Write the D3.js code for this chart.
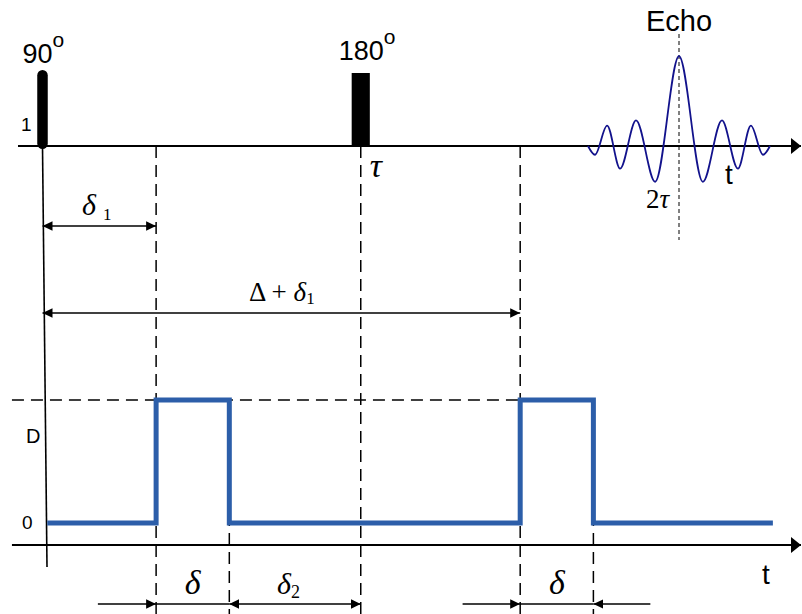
<!DOCTYPE html>
<html>
<head>
<meta charset="utf-8">
<script src="https://cdn.jsdelivr.net/npm/d3@7"></script>
<style>
  html, body { margin: 0; padding: 0; background: #fff; }
  svg { display: block; }
</style>
</head>
<body>
<svg id="chart" width="802" height="614"></svg>
<script>
// ---------- data (time in arbitrary units, tau = 10) ----------
const tau = 10;
const delta1 = 3.57;
const delta = 2.3;
const Delta = 11.44;
const delta2 = tau - delta1 - delta;

// RF pulses
const pulseLabels = ["90", "180"];
const pulseTimes = [0, tau];
const pulseDurations = [0.33, 0.57];
const pulseAmps = [1, 1];

// echo signal: time offsets from 2*tau and amplitudes (extrema)
const echoOffsets = [-2.86, -2.64, -2.26, -1.85, -1.35, -0.75, 0, 0.75, 1.35, 1.85, 2.26, 2.64, 2.86];
const echoAmps    = [0, -0.12, 0.28, -0.31, 0.35, -0.49, 1.23, -0.49, 0.35, -0.31, 0.28, -0.12, 0];

// gradient waveform (step)
const gradTimes  = [0.15, delta1, delta1, delta1 + delta, delta1 + delta, delta1 + Delta, delta1 + Delta, delta1 + Delta + delta, delta1 + Delta + delta, 22.95];
const gradLevels = [0, 0, 1, 1, 0, 0, 1, 1, 0, 0];

// axis tick labels
const rfTickLabels = ["1"];
const gradTickLabels = ["D", "0"];

// ---------- scales ----------
const svg = d3.select("#chart");
const x = d3.scaleLinear().domain([0, 2 * tau]).range([42.5, 679]);
const yRF = d3.scaleLinear().domain([0, 1]).range([146, 73]);
const yG = d3.scaleLinear().domain([0, 1]).range([523, 400]);
const yBase = 545; // gradient time axis

const SANS = "Liberation Sans, Arial, sans-serif";
const SERIF = "Liberation Serif, Times New Roman, serif";

// arrow markers
const defs = svg.append("defs");
function marker(id, size, len) {
  defs.append("marker")
    .attr("id", id)
    .attr("markerUnits", "userSpaceOnUse")
    .attr("viewBox", `0 ${-size} ${len} ${2 * size}`)
    .attr("refX", len).attr("refY", 0)
    .attr("markerWidth", len).attr("markerHeight", 2 * size)
    .attr("orient", "auto-start-reverse")
    .append("path")
    .attr("d", `M0,${-size}L${len},0L0,${size}Z`)
    .attr("fill", "#000");
}
marker("arr", 4.8, 10);
marker("axarr", 8, 10);

// ---------- dashed reference lines ----------
const dash = "12,7";
const vDashes = [
  { t: delta1, y0: yRF(0), y1: 614 },
  { t: delta1 + delta, y0: yG(1), y1: 614 },
  { t: tau, y0: yRF(0), y1: 614 },
  { t: delta1 + Delta, y0: yRF(0), y1: 614 },
  { t: delta1 + Delta + delta, y0: yG(1), y1: 614 }
];
svg.append("g").selectAll("line").data(vDashes).join("line")
  .attr("x1", d => x(d.t)).attr("x2", d => x(d.t))
  .attr("y1", d => d.y0).attr("y2", d => d.y1)
  .attr("stroke", "#000").attr("stroke-width", 1.5)
  .attr("stroke-dasharray", dash);

// horizontal dashed at level D
svg.append("line")
  .attr("x1", x(-0.96)).attr("x2", x(delta1 + Delta))
  .attr("y1", yG(1)).attr("y2", yG(1))
  .attr("stroke", "#000").attr("stroke-width", 1.5)
  .attr("stroke-dasharray", dash);

// echo centre dashed
svg.append("line")
  .attr("x1", x(2 * tau)).attr("x2", x(2 * tau))
  .attr("y1", 34).attr("y2", 240)
  .attr("stroke", "#000").attr("stroke-width", 1)
  .attr("stroke-dasharray", "4,3");

// ---------- axes ----------
svg.append("line")
  .attr("x1", x(-0.77)).attr("x2", 801)
  .attr("y1", yRF(0)).attr("y2", yRF(0))
  .attr("stroke", "#000").attr("stroke-width", 2)
  .attr("marker-end", "url(#axarr)");
svg.append("line")
  .attr("x1", x(-0.96)).attr("x2", 801)
  .attr("y1", yBase).attr("y2", yBase)
  .attr("stroke", "#000").attr("stroke-width", 2)
  .attr("marker-end", "url(#axarr)");
svg.append("line")
  .attr("x1", x(0)).attr("y1", yRF(0))
  .attr("x2", x(0) + 4.5).attr("y2", 567)
  .attr("stroke", "#000").attr("stroke-width", 1.6);

// ---------- gradient waveform ----------
const gLine = d3.line().x(d => x(d[0])).y(d => yG(d[1]));
svg.append("path")
  .datum(d3.zip(gradTimes, gradLevels))
  .attr("d", gLine)
  .attr("fill", "none")
  .attr("stroke", "#2c5ea9")
  .attr("stroke-width", 5)
  .attr("stroke-linejoin", "miter");

// ---------- RF pulses ----------
pulseTimes.forEach((t, i) => {
  const w = x(pulseDurations[i]) - x(0);
  svg.append("rect")
    .attr("x", x(t) - w / 2).attr("width", w)
    .attr("y", yRF(pulseAmps[i]) - (i === 0 ? 3 : 0))
    .attr("height", yRF(0) - yRF(pulseAmps[i]) + (i === 0 ? 6 : 0))
    .attr("rx", i === 0 ? w / 2 : 0)
    .attr("fill", "#000");
});
const pulseLabelPos = [{ dx: -20, base: 63 }, { dx: -22, base: 60 }];
pulseLabels.forEach((lab, i) => {
  const tx = svg.append("text")
    .attr("x", x(pulseTimes[i]) + pulseLabelPos[i].dx)
    .attr("y", pulseLabelPos[i].base)
    .attr("font-size", 27).attr("font-family", SANS);
  tx.append("tspan").text(lab);
  tx.append("tspan").text("o").attr("font-size", 21).attr("dy", -16);
});

// ---------- echo ----------
const eLine = d3.line()
  .x(d => x(2 * tau + d[0]))
  .y(d => yRF(d[1]))
  .curve(d3.curveMonotoneX);
svg.append("path")
  .datum(d3.zip(echoOffsets, echoAmps))
  .attr("d", eLine)
  .attr("fill", "none")
  .attr("stroke", "#12128c")
  .attr("stroke-width", 1.8);

svg.append("text").text("Echo")
  .attr("x", x(2 * tau)).attr("y", 31)
  .attr("text-anchor", "middle")
  .attr("font-family", SANS).attr("font-size", 29);

// ---------- interval arrows ----------
function arrow(t0, t1, y, start, end) {
  const l = svg.append("line")
    .attr("x1", x(t0)).attr("x2", x(t1))
    .attr("y1", y).attr("y2", y)
    .attr("stroke", "#000").attr("stroke-width", 1.3);
  if (start) l.attr("marker-start", "url(#arr)");
  if (end) l.attr("marker-end", "url(#arr)");
}
arrow(0, delta1, 226, true, true);
arrow(0, delta1 + Delta, 313, true, true);
const yb = 604;
arrow(1.74, delta1, yb, false, true);
arrow(delta1, delta1 + delta, yb, false, false);
arrow(delta1 + delta, tau, yb, true, true);
arrow(13.2, delta1 + Delta, yb, false, true);
arrow(delta1 + Delta, delta1 + Delta + delta, yb, false, false);
arrow(delta1 + Delta + delta, 19.1, yb, true, false);

// ---------- math labels ----------
(function () {
  const t = svg.append("text")
    .attr("x", 82).attr("y", 215)
    .attr("font-family", SERIF).attr("font-size", 30);
  t.append("tspan").text("δ").attr("font-style", "italic");
  t.append("tspan").text("1").attr("font-size", 17).attr("dy", 5).attr("dx", 7);
})();
(function () {
  const t = svg.append("text")
    .attr("x", 249).attr("y", 301)
    .attr("font-family", SERIF).attr("font-size", 27);
  t.append("tspan").text("Δ + ");
  t.append("tspan").text("δ").attr("font-style", "italic");
  t.append("tspan").text("1").attr("font-size", 17).attr("dy", 3);
})();
[delta1, delta1 + Delta].forEach(t0 => {
  svg.append("text").text("δ")
    .attr("x", x(t0 + delta / 2)).attr("y", 594)
    .attr("text-anchor", "middle")
    .attr("font-family", SERIF).attr("font-style", "italic").attr("font-size", 34);
});
(function () {
  const t = svg.append("text")
    .attr("x", 277).attr("y", 594)
    .attr("font-family", SERIF).attr("font-size", 30);
  t.append("tspan").text("δ").attr("font-style", "italic");
  t.append("tspan").text("2").attr("font-size", 18).attr("dy", 4);
})();
svg.append("text").text("τ")
  .attr("x", x(tau) + 9).attr("y", 177)
  .attr("font-family", SERIF).attr("font-style", "italic").attr("font-size", 34);
(function () {
  const t = svg.append("text")
    .attr("x", 646).attr("y", 208)
    .attr("font-family", SERIF).attr("font-size", 27);
  t.append("tspan").text("2");
  t.append("tspan").text("τ").attr("font-style", "italic");
})();

// t labels
svg.append("text").text("t").attr("x", 725).attr("y", 184)
  .attr("font-family", SANS).attr("font-size", 28);
svg.append("text").text("t").attr("x", 762).attr("y", 584)
  .attr("font-family", SANS).attr("font-size", 28);

// tick labels
svg.append("text").text(rfTickLabels[0]).attr("x", 21).attr("y", 131)
  .attr("font-family", SANS).attr("font-size", 19);
svg.append("text").text(gradTickLabels[0]).attr("x", 26).attr("y", 443)
  .attr("font-family", SANS).attr("font-size", 20);
svg.append("text").text(gradTickLabels[1]).attr("x", 22).attr("y", 529)
  .attr("font-family", SANS).attr("font-size", 19);
</script>
</body>
</html>
